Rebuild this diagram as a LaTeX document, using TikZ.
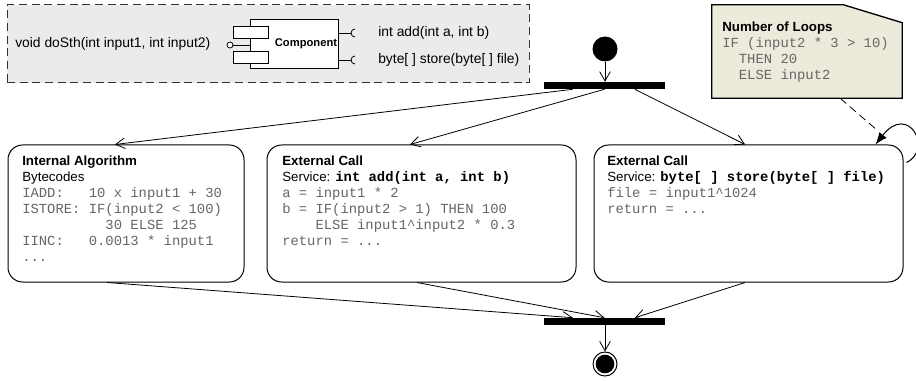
\documentclass[tikz,border=0pt]{standalone}
\usepackage{fontspec}
\setsansfont{Liberation Sans}
\setmonofont{Liberation Mono}
\usetikzlibrary{arrows.meta,calc}
\definecolor{codegray}{HTML}{666666}
\definecolor{panelgray}{HTML}{EBEBEB}
\definecolor{notefill}{HTML}{ECEADB}
% code in plain and bold monospace
\newcommand\cd[1]{{\fontsize{10.4}{12}\selectfont\ttfamily\color{codegray}#1}}
\newcommand\cdb[1]{{\fontsize{10.4}{12}\selectfont\ttfamily\bfseries #1}}
\begin{document}
\begin{tikzpicture}[x=0.75pt,y=-0.75pt,
  action/.style={draw, rounded corners=11pt, line width=0.75pt, minimum height=102.75pt, inner sep=0pt, fill=white},
  syncbar/.style={fill=black, inner sep=0pt, minimum width=90.75pt, minimum height=5.25pt},
  flow/.style={-{Straight Barb[length=7pt,width=8pt]}, line width=0.6pt},
  txt/.style={anchor=north west, inner sep=0pt, align=left, font=\fontsize{10}{12}\selectfont\sffamily},
  plain/.style={inner sep=0pt, font=\fontsize{10.4}{12}\selectfont\sffamily}]
\useasboundingbox (0,0) rectangle (916,381);

% provided/required interface panel
\node[draw=black!80, dash pattern=on 6pt off 3.5pt, fill=panelgray, line width=0.75pt,
      minimum width=391.5pt, minimum height=58.5pt, inner sep=0pt] (panel) at (268,44) {};
\node[plain, anchor=west] (req) at (15,44) {void doSth(int input1, int input2)};
\node[draw, fill=white, line width=0.6pt, minimum width=66pt, minimum height=36.75pt, inner sep=0pt] (comp) at (294,43.5) {};
\node[draw, fill=white, line width=0.6pt, minimum width=26.25pt, minimum height=9pt, inner sep=0pt] (tab1) at (250.5,32) {};
\node[draw, fill=white, line width=0.6pt, minimum width=26.25pt, minimum height=9pt, inner sep=0pt] (tab2) at (250.5,57) {};
\node[font=\fontsize{8.4}{10}\selectfont\sffamily\bfseries, inner sep=0pt] (complabel) at (306,44) {Component};
\node[circle, draw, fill=white, line width=0.6pt, minimum size=4.5pt, inner sep=0pt] (prov) at (230,45) {};
\draw[line width=0.6pt] (prov) -- (prov -| comp.west);
\coordinate (sockA) at (355,33);
\coordinate (sockB) at (355,60);
\draw[line width=0.6pt] (comp.east |- sockA) -- ($(sockA)+(-4,0)$);
\draw[line width=0.6pt] ($(sockA)+(0,4)$) arc[start angle=90, end angle=270, radius=4];
\draw[line width=0.6pt] (comp.east |- sockB) -- ($(sockB)+(-4,0)$);
\draw[line width=0.6pt] ($(sockB)+(0,4)$) arc[start angle=90, end angle=270, radius=4];
\node[plain, anchor=west] (portA) at (378,33) {int add(int a, int b)};
\node[plain, anchor=west] (portB) at (378,60) {byte[ ] store(byte[ ] file)};

% loop note
\node[minimum width=142.5pt, minimum height=69.75pt, inner sep=0pt] (note) at (807,51.5) {};
\filldraw[fill=notefill, line width=1pt] (note.south west) -- (note.north west)
  -- ($(note.north east)+(-59,0)$) -- ($(note.north east)+(0,18)$) -- (note.south east) -- cycle;
\node[txt] (notetxt) at (722,21.5) {\textbf{Number of Loops}\\
  \cd{IF (input2 * 3 > 10)}\\
  \cd{\ \ THEN 20}\\
  \cd{\ \ ELSE input2}};

% control flow nodes
\node[circle, fill=black, minimum size=18.75pt, inner sep=0pt] (start) at (605,49) {};
\node[syncbar] (fork) at (604.5,85.5) {};
\node[syncbar] (join) at (604.5,321.5) {};
\node[circle, draw, line width=0.75pt, minimum size=18pt, inner sep=0pt,
      path picture={\fill (path picture bounding box.center) circle (7pt);}] (stop) at (605,364) {};

% actions
\node[action, minimum width=177pt] (L) at (126,213.5) {};
\node[action, minimum width=231.75pt] (M) at (421.5,213.5) {};
\node[action, minimum width=231.75pt] (R) at (748.5,213.5) {};

\node[txt] (Ltxt) at (22,155.5) {\textbf{Internal Algorithm}\\
  Bytecodes\\
  \cd{IADD:\ \ \ 10 x input1 + 30}\\
  \cd{ISTORE: IF(input2 < 100)}\\
  \cd{\ \ \ \ \ \ \ \ \ \ 30 ELSE 125}\\
  \cd{IINC:\ \ \ 0.0013 * input1}\\
  \cd{...}};
\node[txt] (Mtxt) at (282,155.5) {\textbf{External Call}\\
  Service: \cdb{int add(int a, int b)}\\
  \cd{a = input1 * 2}\\
  \cd{b = IF(input2 > 1) THEN 100}\\
  \cd{\ \ \ \ ELSE input1\textasciicircum input2 * 0.3}\\
  \cd{return = ...}};
\node[txt] (Rtxt) at (607,155.5) {\textbf{External Call}\\
  Service: \cdb{byte[ ] store(byte[ ] file)}\\
  \cd{file = input1\textasciicircum 1024}\\
  \cd{return = ...}};

% connectors
\draw[flow] (start.south) -- (start.south |- fork.north);
\draw[flow] ($(fork.south west)!0.24!(fork.south east)$) -- ($(L.north west)!0.453!(L.north east)$);
\draw[flow] ($(fork.south west)!0.5!(fork.south east)$) -- ($(M.north west)!0.463!(M.north east)$);
\draw[flow] ($(fork.south west)!0.75!(fork.south east)$) -- ($(R.north west)!0.489!(R.north east)$);
\draw[flow] ($(L.south west)!0.42!(L.south east)$) -- ($(join.north west)!0.24!(join.north east)$);
\draw[flow] ($(M.south west)!0.485!(M.south east)$) -- ($(join.north west)!0.5!(join.north east)$);
\draw[flow] ($(R.south west)!0.489!(R.south east)$) -- ($(join.north west)!0.75!(join.north east)$);
\draw[flow] (join.south -| stop.north) -- (stop.north);

% loop self-transition with its note anchor
\draw[-{Latex[length=9pt,width=7pt]}, line width=0.75pt] ($(R.north east)+(3,18)$)
  .. controls ($(R.north east)+(30,5)$) and ($(R.north east)+(5,-42)$) .. ($(R.north east)+(-28,0)$);
\coordinate (loopjoin) at ($(R.north east)+(-26,-14)$);
\draw[dash pattern=on 6pt off 3.5pt, line width=0.6pt] ($(note.south west)!0.674!(note.south east)$) -- (loopjoin);
\end{tikzpicture}
\end{document}
